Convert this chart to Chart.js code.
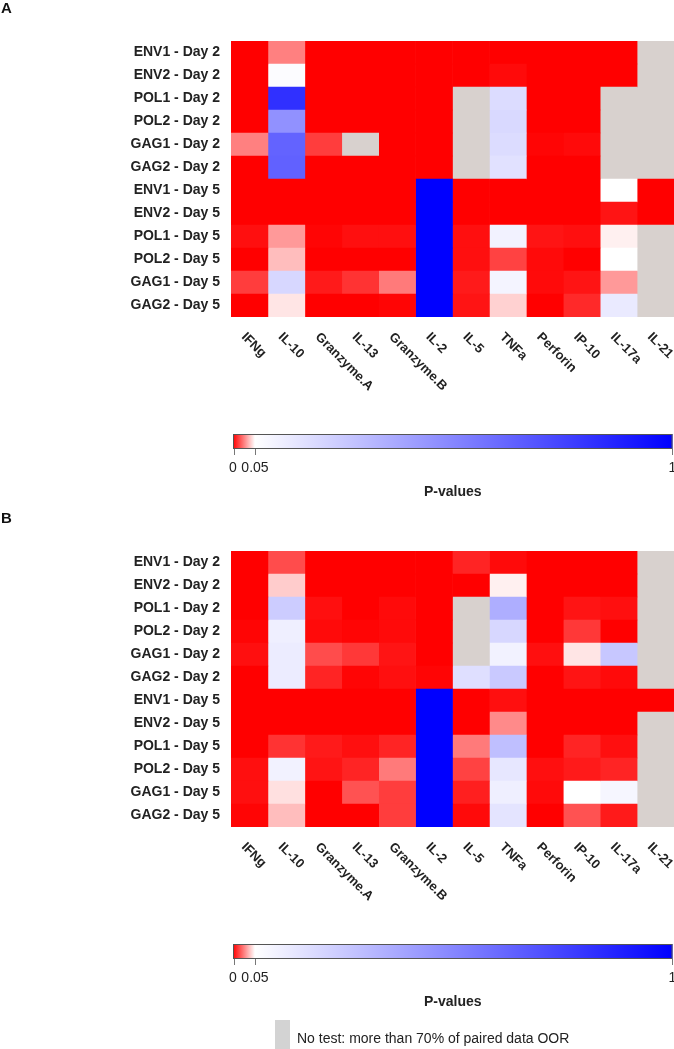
<!DOCTYPE html>
<html>
<head>
<meta charset="utf-8">
<script src="https://cdn.jsdelivr.net/npm/chart.js@4.4.1/dist/chart.umd.min.js"></script>
<style>
  html, body { margin: 0; padding: 0; background: #fff; }
  .panel { position: relative; width: 674px; }
  canvas { display: block; }
</style>
</head>
<body>
<div class="panel"><canvas id="heatA" width="674" height="510"></canvas></div>
<div class="panel"><canvas id="heatB" width="674" height="539"></canvas></div>
<script>
const rowLabels = [
    'ENV1 - Day 2', 'ENV2 - Day 2', 'POL1 - Day 2', 'POL2 - Day 2', 'GAG1 - Day 2', 'GAG2 - Day 2',
    'ENV1 - Day 5', 'ENV2 - Day 5', 'POL1 - Day 5', 'POL2 - Day 5', 'GAG1 - Day 5', 'GAG2 - Day 5'
];
const cytokines = ['IFNg', 'IL-10', 'Granzyme.A', 'IL-13', 'Granzyme.B', 'IL-2', 'IL-5', 'TNFa', 'Perforin', 'IP-10', 'IL-17a', 'IL-21'];

// p-values per row (columns follow cytokines), null = no test
const pValuesA = [
    [0, 0.025, 0, 0, 0, 0, 0, 0, 0, 0, 0, null],
    [0, 0.06, 0, 0, 0, 0, 0, 0.002, 0, 0, 0, null],
    [0, 0.82, 0, 0, 0, 0, null, 0.18, 0, 0, null, null],
    [0, 0.46, 0, 0, 0, 0, null, 0.19, 0, 0, null, null],
    [0.025, 0.63, 0.012, null, 0, 0, null, 0.18, 0.001, 0.002, null, null],
    [0, 0.64, 0, 0, 0, 0, null, 0.16, 0, 0, null, null],
    [0, 0, 0, 0, 0, 1, 0, 0, 0, 0, 0.05, 0],
    [0, 0, 0, 0, 0, 1, 0, 0, 0, 0, 0.004, 0],
    [0.003, 0.03, 0.001, 0.003, 0.003, 1, 0.003, 0.1, 0.004, 0.003, 0.047, null],
    [0, 0.037, 0, 0, 0, 1, 0.003, 0.013, 0.002, 0, 0.05, null],
    [0.012, 0.2, 0.005, 0.01, 0.024, 1, 0.005, 0.09, 0.002, 0.004, 0.03, null],
    [0, 0.045, 0, 0, 0.001, 1, 0.004, 0.041, 0, 0.008, 0.13, null]
];
const pValuesB = [
    [0, 0.015, 0, 0, 0, 0, 0.007, 0.002, 0, 0, 0, null],
    [0, 0.04, 0, 0, 0, 0, 0, 0.047, 0, 0, 0, null],
    [0, 0.24, 0.003, 0, 0.002, 0, null, 0.35, 0, 0.004, 0.003, null],
    [0.001, 0.11, 0.002, 0.001, 0.002, 0, null, 0.2, 0, 0.011, 0, null],
    [0.003, 0.12, 0.015, 0.011, 0.004, 0, null, 0.1, 0.003, 0.045, 0.26, null],
    [0, 0.12, 0.007, 0.001, 0.003, 0.001, 0.17, 0.25, 0, 0.004, 0.002, null],
    [0, 0, 0, 0, 0, 1, 0, 0.003, 0, 0, 0, 0],
    [0, 0, 0, 0, 0, 1, 0, 0.027, 0, 0, 0, null],
    [0, 0.01, 0.005, 0.003, 0.007, 1, 0.024, 0.29, 0, 0.007, 0.003, null],
    [0.003, 0.1, 0.004, 0.007, 0.024, 1, 0.013, 0.14, 0.003, 0.005, 0.007, null],
    [0.003, 0.044, 0, 0.016, 0.012, 1, 0.006, 0.11, 0.002, 0.05, 0.085, null],
    [0.001, 0.037, 0, 0, 0.012, 1, 0.002, 0.15, 0, 0.016, 0.005, null]
];

const colorTicks = [0, 0.05, 1];
const colorTickLabels = ['0', '0.05', '1'];

const FONT = '"Liberation Sans", Arial, Helvetica, sans-serif';
const noTestColor = '#d8d1ce';

function pColor(p) {
    if (p === null) return noTestColor;
    if (p <= 0.05) {
        const v = Math.round(255 * p / 0.05);
        return `rgb(255,${v},${v})`;
    }
    const v = Math.round(255 * (1 - (p - 0.05) / 0.95));
    return `rgb(${v},${v},255)`;
}

// column labels, colour bar, panel letter, optional legend
const extrasPlugin = {
    id: 'extras',
    afterDraw(chart, args, opts) {
        const ctx = chart.ctx;
        const xs = chart.scales.x;
        const area = chart.chartArea;
        ctx.save();

        // panel letter
        ctx.fillStyle = '#111';
        ctx.font = 'bold 15px ' + FONT;
        ctx.textAlign = 'left';
        ctx.textBaseline = 'middle';
        ctx.fillText(opts.letter, 1, 9);

        // rotated cytokine labels
        ctx.font = 'bold 13px ' + FONT;
        ctx.fillStyle = '#222';
        cytokines.forEach((name, i) => {
            const cx = xs.getPixelForValue(i + 0.5);
            ctx.save();
            ctx.translate(cx - 6, area.bottom + 18);
            ctx.rotate(Math.PI / 4);
            ctx.fillText(name, 0, 0);
            ctx.restore();
        });

        // colour bar
        const x0 = area.left + 2, x1 = area.right - 1.5;
        const top = area.bottom + 117, h = 15;
        const grad = ctx.createLinearGradient(x0, 0, x1, 0);
        grad.addColorStop(0, 'rgb(255,0,0)');
        grad.addColorStop(0.05, 'rgb(255,255,255)');
        grad.addColorStop(1, 'rgb(0,0,255)');
        ctx.fillStyle = grad;
        ctx.fillRect(x0, top, x1 - x0, h);
        ctx.strokeStyle = '#555';
        ctx.lineWidth = 1;
        ctx.strokeRect(x0 + 0.5, top + 0.5, x1 - x0 - 1, h - 1);

        ctx.strokeStyle = '#777';
        ctx.fillStyle = '#222';
        ctx.font = '14px ' + FONT;
        ctx.textAlign = 'center';
        colorTicks.forEach((t, i) => {
            const px = x0 + t * (x1 - x0);
            const lx = Math.min(Math.max(px, x0 + 0.5), x1 - 0.5);
            ctx.beginPath();
            ctx.moveTo(Math.round(lx) + 0.5, top + h);
            ctx.lineTo(Math.round(lx) + 0.5, top + h + 6);
            ctx.stroke();
            ctx.fillText(colorTickLabels[i], px, top + h + 19);
        });
        ctx.font = 'bold 14px ' + FONT;
        ctx.fillText('P-values', (x0 + x1) / 2, top + h + 43);

        if (opts.showLegend) {
            ctx.fillStyle = '#d3d3d3';
            ctx.fillRect(275, area.bottom + 193, 15, 40);
            ctx.fillStyle = '#222';
            ctx.font = '14px ' + FONT;
            ctx.textAlign = 'left';
            ctx.fillText('No test: more than 70% of paired data OOR', 297, area.bottom + 212);
        }
        ctx.restore();
    }
};

function buildHeatmap(canvasId, pValues, letter, showLegend, bottomPad) {
    const datasets = cytokines.map((name, c) => ({
        label: name,
        data: rowLabels.map(() => 1),
        backgroundColor: pValues.map(row => pColor(row[c])),
        borderWidth: 0,
        barPercentage: 1,
        categoryPercentage: 1
    }));
    new Chart(document.getElementById(canvasId), {
        type: 'bar',
        data: { labels: rowLabels, datasets },
        options: {
            indexAxis: 'y',
            responsive: false,
            animation: false,
            devicePixelRatio: 1,
            layout: { padding: { top: 41, bottom: bottomPad, left: 0, right: 0 } },
            plugins: {
                legend: { display: false },
                tooltip: { enabled: false },
                extras: { letter, showLegend }
            },
            scales: {
                x: { stacked: true, min: 0, max: cytokines.length, display: false },
                y: {
                    stacked: true,
                    grid: { display: false, drawTicks: false },
                    border: { display: false },
                    ticks: {
                        color: '#222',
                        padding: 11,
                        font: { family: FONT, size: 14, weight: 'bold' }
                    },
                    afterFit(scale) { scale.width = 231; }
                }
            }
        },
        plugins: [extrasPlugin]
    });
}

buildHeatmap('heatA', pValuesA, 'A', false, 193);
buildHeatmap('heatB', pValuesB, 'B', true, 222);
</script>
</body>
</html>
